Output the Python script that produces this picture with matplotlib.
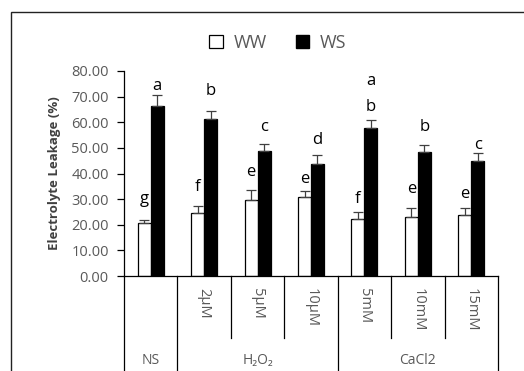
import matplotlib
matplotlib.use("Agg")
import matplotlib.pyplot as plt
import matplotlib.transforms as mtransforms
from matplotlib.patches import Rectangle, Patch
import numpy as np

plt.rcParams['font.family'] = ['Open Sans', 'DejaVu Sans']

sub_labels = ["", "2\u00b5M", "5\u00b5M", "10\u00b5M", "5mM", "10mM", "15mM"]
group_labels = ["NS", "H\u2082O\u2082", "CaCl2"]
group_spans = [(0, 0), (1, 3), (4, 6)]
ww = [20.5, 24.5, 29.7, 30.7, 22.1, 23.2, 23.8]
ws = [66.3, 61.1, 48.9, 43.7, 57.6, 48.3, 44.9]
ww_err = [1.5, 2.8, 3.9, 2.3, 2.9, 3.3, 2.7]
ws_err = [4.5, 3.4, 2.6, 3.4, 3.3, 2.7, 3.2]
ww_letters = ["g", "f", "e", "e", "f", "e", "e"]
ws_letters = ["a", "b", "c", "d", "a\nb", "b", "c"]
ww_letter_y = [30.0, 34.9, 40.7, 37.7, 29.9, 33.8, 32.0]
ws_letter_y = [74.1, 72.3, 58.0, 53.1, 65.8, 58.3, 51.2]
yticks = [0, 10, 20, 30, 40, 50, 60, 70, 80]

W, H = 524, 371
fig = plt.figure(figsize=(W / 100, H / 100), dpi=100)
ax = fig.add_axes([124 / W, 1 - 276 / H, (498 - 124) / W, (276 - 71) / H])

x = np.arange(len(ww))
bw = 0.243
gray = "#595959"
ax.bar(x - bw / 2, ww, bw, color="white", edgecolor="black", linewidth=0.9, label="WW", zorder=2)
ax.bar(x + bw / 2, ws, bw, color="black", edgecolor="black", linewidth=0.9, label="WS", zorder=2)
ax.errorbar(x - bw / 2, ww, yerr=[np.zeros(len(ww)), ww_err], fmt="none", ecolor="#404040",
            elinewidth=0.9, capsize=3.5, capthick=0.9, zorder=3)
ax.errorbar(x + bw / 2, ws, yerr=[np.zeros(len(ws)), ws_err], fmt="none", ecolor="#404040",
            elinewidth=0.9, capsize=3.5, capthick=0.9, zorder=3)

lfs = 12
for i in range(len(ww)):
    ax.text(x[i] - bw / 2, ww_letter_y[i], ww_letters[i], ha="center", va="center",
            fontsize=lfs, color="black")
    lab = ws_letters[i]
    if "\n" in lab:
        parts = lab.split("\n")
        ax.text(x[i] + bw / 2, ws_letter_y[i], parts[1], ha="center", va="center", fontsize=lfs)
        ax.text(x[i] + bw / 2, ws_letter_y[i] + 10.3, parts[0], ha="center", va="center", fontsize=lfs)
    else:
        ax.text(x[i] + bw / 2, ws_letter_y[i], lab, ha="center", va="center", fontsize=lfs)

ax.set_xlim(-0.5, len(ww) - 0.5)
ax.set_ylim(0, 80)
ax.set_yticks(yticks)
ax.set_yticklabels([f"{v:.2f}" for v in yticks], color=gray, fontsize=10.5)
ax.tick_params(axis="y", direction="out", length=5, width=0.9, color="black", pad=6)
ax.set_xticks([])
for s in ["top", "right"]:
    ax.spines[s].set_visible(False)
ax.spines["left"].set_linewidth(0.9)
ax.spines["bottom"].set_linewidth(0.9)
ax.set_ylabel("Electrolyte Leakage (%)", fontsize=9.5, fontweight="bold", color="#404040", labelpad=7)

trans = mtransforms.blended_transform_factory(ax.transData, ax.transAxes)
inner_bottom = (276 - 338) / (276 - 71)
outer_bottom = (276 - 380) / (276 - 71)
outer = {-0.5, 0.5, 3.5, 6.5}
for b in np.arange(-0.5, len(ww), 1.0):
    yb = outer_bottom if b in outer else inner_bottom
    ax.plot([b, b], [0, yb], transform=trans, color="black", lw=0.9, clip_on=False)

label_top = (276 - 288) / (276 - 71)
for i, lab in enumerate(sub_labels):
    if lab:
        ax.text(x[i], label_top, lab, transform=trans, rotation=-90, ha="center", va="top",
                fontsize=10.5, color=gray)

group_y = (276 - 360) / (276 - 71)
for lab, (a, b) in zip(group_labels, group_spans):
    ax.text((a + b) / 2, group_y, lab, transform=trans, ha="center", va="center",
            fontsize=10, color=gray)

handles = [Patch(facecolor="white", edgecolor="black", linewidth=0.9, label="WW"),
           Patch(facecolor="black", edgecolor="black", label="WS")]
fig.legend(handles=handles, loc="center", bbox_to_anchor=(278 / W, 1 - 43 / H), ncol=2,
           frameon=False, fontsize=13, labelcolor=gray, handlelength=0.75, handleheight=0.75,
           columnspacing=1.6, handletextpad=0.6)

fig.patches.append(Rectangle((11 / W, -0.1), 1.0, 1 - 12 / H + 0.1, transform=fig.transFigure,
                             fill=False, edgecolor="#222222", linewidth=1.0))

fig.savefig("out.png", dpi=100)
